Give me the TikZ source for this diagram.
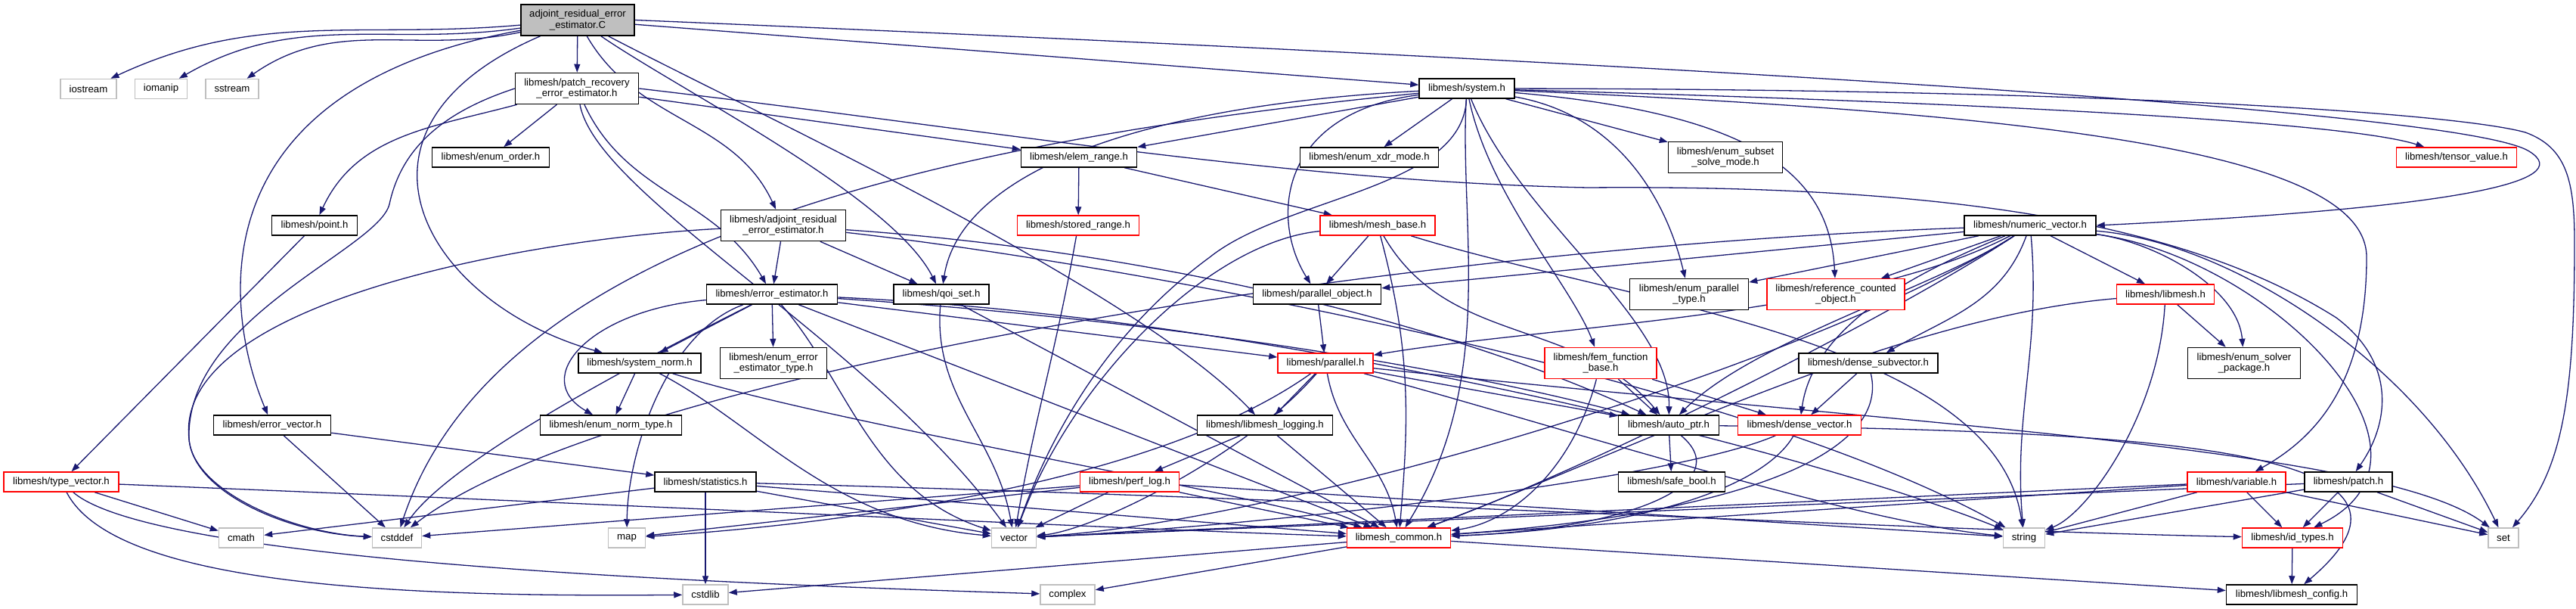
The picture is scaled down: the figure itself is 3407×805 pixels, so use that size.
\documentclass[tikz,border=0pt]{standalone}
\usepackage{fontspec}
\setmainfont{Liberation Sans}
\usepackage{tikz}
\usetikzlibrary{arrows.meta, backgrounds}
\definecolor{edgeblue}{RGB}{25,25,112}
\definecolor{sysgray}{RGB}{191,191,191}
\newcommand{\graphfont}{\fontsize{13.2}{14.2}\selectfont}

\begin{document}
\begin{tikzpicture}[
  x=1pt, y=1pt,
  hdr/.style={rectangle, draw=black, fill=white, line width=1.5pt, minimum height=26pt,
              inner xsep=3pt, inner ysep=1pt, align=center, font=\graphfont},
  hidden/.style={hdr, draw=red},
  sysinc/.style={hdr, draw=sysgray},
  twoline/.style={minimum height=41pt},
  arrow/.style={-{Triangle[length=11pt,width=8pt]}, line width=1.3pt, edgeblue}
]
\useasboundingbox (0,0) rectangle (3407,-805);

% row 0 and 1
\node[hdr, twoline, fill=sysgray, minimum width=150pt] (root) at (764,-26.5) {adjoint\_residual\_error\\\_estimator.C};
\node[sysinc, minimum width=74pt] (iostream) at (117,-117.5) {iostream};
\node[sysinc, minimum width=69pt] (iomanip) at (213,-117.5) {iomanip};
\node[sysinc, minimum width=70pt] (sstream) at (307,-117.5) {sstream};
\node[hdr, twoline, minimum width=163pt] (patchrec) at (763,-117) {libmesh/patch\_recovery\\\_error\_estimator.h};
\node[hdr, minimum width=126pt] (system) at (1940,-117) {libmesh/system.h};

% row 2
\node[hdr, minimum width=155pt] (enumorder) at (649,-208) {libmesh/enum\_order.h};
\node[hdr, minimum width=153pt] (elemrange) at (1427,-208) {libmesh/elem\_range.h};
\node[hdr, minimum width=183pt] (enumxdr) at (1811,-208) {libmesh/enum\_xdr\_mode.h};
\node[hdr, twoline, minimum width=151pt] (enumsubset) at (2282,-208) {libmesh/enum\_subset\\\_solve\_mode.h};
\node[hidden, minimum width=159pt] (tensor) at (3249,-208) {libmesh/tensor\_value.h};

% row 3
\node[hdr, minimum width=113pt] (point) at (416,-298) {libmesh/point.h};
\node[hdr, twoline, minimum width=165pt] (adjres) at (1036,-298) {libmesh/adjoint\_residual\\\_error\_estimator.h};
\node[hidden, minimum width=161pt] (storedrange) at (1426,-298) {libmesh/stored\_range.h};
\node[hidden, minimum width=152pt] (meshbase) at (1822,-298) {libmesh/mesh\_base.h};
\node[hdr, minimum width=174pt] (numvec) at (2685,-298) {libmesh/numeric\_vector.h};

% row 4
\node[hdr, minimum width=173pt] (errest) at (1021,-389) {libmesh/error\_estimator.h};
\node[hdr, minimum width=126pt] (qoiset) at (1245,-389) {libmesh/qoi\_set.h};
\node[hdr, minimum width=169pt] (parobj) at (1742,-389) {libmesh/parallel\_object.h};
\node[hdr, twoline, minimum width=157pt] (enumpartype) at (2234,-389) {libmesh/enum\_parallel\\\_type.h};
\node[hidden, twoline, minimum width=182pt] (refcount) at (2428,-389) {libmesh/reference\_counted\\\_object.h};
\node[hidden, minimum width=129pt] (libmeshh) at (2864,-389) {libmesh/libmesh.h};

% row 5
\node[hdr, minimum width=162pt] (sysnorm) at (846,-480) {libmesh/system\_norm.h};
\node[hdr, twoline, minimum width=141pt] (enumerrtype) at (1023,-480) {libmesh/enum\_error\\\_estimator\_type.h};
\node[hidden, minimum width=126pt] (parallel) at (1753,-480) {libmesh/parallel.h};
\node[hidden, twoline, minimum width=148pt] (femfunc) at (2117,-480) {libmesh/fem\_function\\\_base.h};
\node[hdr, minimum width=184pt] (densesub) at (2471,-480) {libmesh/dense\_subvector.h};
\node[hdr, twoline, minimum width=149pt] (enumsolver) at (2968,-480) {libmesh/enum\_solver\\\_package.h};

% row 6
\node[hdr, minimum width=155pt] (errvec) at (360,-562) {libmesh/error\_vector.h};
\node[hdr, minimum width=187pt] (enumnorm) at (808,-562) {libmesh/enum\_norm\_type.h};
\node[hdr, minimum width=179pt] (logging) at (1673,-562) {libmesh/libmesh\_logging.h};
\node[hdr, minimum width=133pt] (autoptr) at (2207,-562) {libmesh/auto\_ptr.h};
\node[hidden, minimum width=163pt] (densevec) at (2380,-562) {libmesh/dense\_vector.h};

% row 7
\node[hidden, minimum width=152pt] (typevec) at (81,-637) {libmesh/type\_vector.h};
\node[hdr, minimum width=134pt] (stats) at (933,-637) {libmesh/statistics.h};
\node[hidden, minimum width=131pt] (perflog) at (1494,-637) {libmesh/perf\_log.h};
\node[hdr, minimum width=141pt] (safebool) at (2211,-637) {libmesh/safe\_bool.h};
\node[hidden, minimum width=130pt] (variable) at (2958,-637) {libmesh/variable.h};
\node[hdr, minimum width=116pt] (patch) at (3106,-637) {libmesh/patch.h};

% row 8
\node[sysinc, minimum width=59pt] (cmath) at (319,-711) {cmath};
\node[sysinc, minimum width=65pt] (cstddef) at (525,-711) {cstddef};
\node[sysinc, minimum width=49pt] (map) at (829,-711) {map};
\node[sysinc, minimum width=59pt] (vector) at (1341,-711) {vector};
\node[hidden, minimum width=137pt] (common) at (1850,-711) {libmesh\_common.h};
\node[sysinc, minimum width=55pt] (string) at (2677,-711) {string};
\node[hidden, minimum width=133pt] (idtypes) at (3032,-711) {libmesh/id\_types.h};
\node[sysinc, minimum width=40pt] (set) at (3311,-711) {set};

% row 9
\node[sysinc, minimum width=60pt] (cstdlib) at (933,-786) {cstdlib};
\node[sysinc, minimum width=72pt] (complex) at (1412,-786) {complex};
\node[hdr, minimum width=173pt] (config) at (3031,-786) {libmesh/libmesh\_config.h};

\begin{scope}[on background layer]
% root
\draw[arrow] (root) to[out=185,in=25] (iostream);
\draw[arrow] (root) to[out=188,in=30] (iomanip);
\draw[arrow] (root) to[out=192,in=35] (sstream);
\draw[arrow] (root) -- (patchrec);
\draw[arrow] (root) -- (system);
\draw[arrow] (root) to[out=-60,in=115] (adjres);
\draw[arrow] (root) .. controls (900,-120) and (1180,-260) .. (qoiset);
\draw[arrow] (root) .. controls (1000,-150) and (1500,-380) .. (logging);
\draw[arrow] (root) .. controls (250,-120) and (300,-420) .. (errvec);
\draw[arrow] (root) .. controls (430,-170) and (560,-400) .. (sysnorm);
\draw[arrow] (root.east) .. controls (2000,-75) and (3250,-140) .. (3345,-200) .. controls (3410,-240) and (3250,-275) .. (numvec.east);

% patch recovery
\draw[arrow] (patchrec) -- (enumorder);
\draw[arrow] (patchrec) to[out=195,in=65] (point);
\draw[arrow] (patchrec) -- (elemrange);
\draw[arrow] (patchrec) to[out=-65,in=120] (errest);
\draw[arrow] (patchrec.east) .. controls (1300,-170) and (1700,-240) .. (2100,-248) .. controls (2600,-244) and (2900,-300) .. (3090,-420) .. controls (3170,-480) and (3160,-560) .. (patch);
\draw[arrow] (patchrec.west) .. controls (580,-150) and (530,-200) .. (515,-270) .. controls (500,-330) and (245,-420) .. (250,-580) .. controls (255,-650) and (380,-705) .. (cstddef);
\draw[arrow] (patchrec) .. controls (790,-260) and (1150,-450) .. (vector);

% system
\draw[arrow] (system) -- (elemrange);
\draw[arrow] (system) -- (enumxdr);
\draw[arrow] (system) -- (enumsubset);
\draw[arrow] (system) .. controls (2600,-135) and (3100,-160) .. (tensor);
\draw[arrow] (system) .. controls (2700,-150) and (3130,-200) .. (3130,-340) .. controls (3130,-510) and (3060,-580) .. (variable);
\draw[arrow] (system) .. controls (2800,-118) and (3250,-150) .. (3340,-175) .. controls (3395,-195) and (3405,-240) .. (3405,-320) .. controls (3405,-520) and (3390,-620) .. (set);
\draw[arrow] (system) .. controls (1500,-140) and (1270,-230) .. (qoiset);
\draw[arrow] (system) .. controls (1690,-150) and (1680,-290) .. (parobj);
\draw[arrow] (system) .. controls (2130,-150) and (2200,-250) .. (enumpartype);
\draw[arrow] (system) .. controls (2320,-150) and (2420,-230) .. (refcount);
\draw[arrow] (system) .. controls (1970,-260) and (2080,-380) .. (femfunc);
\draw[arrow] (system) .. controls (2010,-290) and (2210,-420) .. (autoptr);
\draw[arrow] (system) .. controls (1930,-300) and (1980,-500) .. (common);
\draw[arrow] (system) .. controls (1935,-250) and (1700,-260) .. (1600,-340) .. controls (1450,-450) and (1380,-600) .. (vector);
\draw[arrow] (system) .. controls (1200,-190) and (650,-330) .. (cstddef);

% adjoint residual header
\draw[arrow] (adjres) -- (errest);
\draw[arrow] (adjres) -- (qoiset);
\draw[arrow] (adjres) .. controls (700,-315) and (230,-400) .. (250,-580) .. controls (255,-650) and (390,-705) .. (cstddef);
\draw[arrow] (adjres) .. controls (1500,-330) and (1900,-420) .. (autoptr);
\draw[arrow] (adjres) .. controls (1500,-350) and (2300,-500) .. (string);

% ranges and mesh
\draw[arrow] (elemrange) -- (storedrange);
\draw[arrow] (elemrange) -- (meshbase);
\draw[arrow] (storedrange) to[out=-100,in=80] (vector);
\draw[arrow] (point) -- (typevec);
\draw[arrow] (meshbase) -- (parobj);
\draw[arrow] (meshbase) to[out=-60,in=130] (autoptr);
\draw[arrow] (meshbase) to[out=-75,in=85] (common);
\draw[arrow] (meshbase) .. controls (2150,-400) and (2640,-450) .. (string);
\draw[arrow] (meshbase) .. controls (1600,-320) and (1420,-500) .. (vector);

% numeric vector
\draw[arrow] (numvec) -- (parobj);
\draw[arrow] (numvec) -- (enumpartype);
\draw[arrow] (numvec) -- (refcount);
\draw[arrow] (numvec) -- (libmeshh);
\draw[arrow] (numvec) to[out=-110,in=30] (densesub);
\draw[arrow] (numvec) .. controls (2560,-350) and (2400,-420) .. (densevec);
\draw[arrow] (numvec) .. controls (2450,-420) and (2050,-430) .. (parallel);
\draw[arrow] (numvec) .. controls (2560,-380) and (2320,-450) .. (autoptr);
\draw[arrow] (numvec) .. controls (2850,-320) and (2960,-380) .. (enumsolver);
\draw[arrow] (numvec) .. controls (3000,-340) and (3260,-600) .. (idtypes);
\draw[arrow] (numvec) .. controls (2950,-320) and (3200,-480) .. (set);
\draw[arrow] (numvec) .. controls (2500,-420) and (2100,-620) .. (common);
\draw[arrow] (numvec) to[out=-85,in=95] (string);
\draw[arrow] (numvec) .. controls (2400,-480) and (1700,-690) .. (vector);
\draw[arrow] (numvec) .. controls (1800,-330) and (800,-500) .. (cstddef);

% error estimator
\draw[arrow] (errest) -- (sysnorm);
\draw[arrow] (errest) -- (enumerrtype);
\draw[arrow] (errest) -- (parallel);
\draw[arrow] (errest) .. controls (1500,-420) and (1900,-480) .. (autoptr);
\draw[arrow] (errest) -- (common);
\draw[arrow] (errest) .. controls (1120,-500) and (1150,-650) .. (vector);
\draw[arrow] (errest) .. controls (900,-450) and (600,-600) .. (cstddef);
\draw[arrow] (errest) .. controls (880,-440) and (830,-600) .. (map);
\draw[arrow] (errest) .. controls (780,-410) and (700,-500) .. (enumnorm);
\draw[arrow] (errest) .. controls (1700,-420) and (2400,-600) .. (string);

% qoi set, parallel object, norm
\draw[arrow] (qoiset) to[out=-95,in=100] (vector);
\draw[arrow] (qoiset) -- (common);
\draw[arrow] (parobj) -- (parallel);
\draw[arrow] (sysnorm) -- (enumnorm);
\draw[arrow] (sysnorm) .. controls (1000,-560) and (1100,-690) .. (vector);
\draw[arrow] (sysnorm) .. controls (1100,-560) and (1600,-640) .. (common);

% parallel
\draw[arrow] (parallel) -- (logging);
\draw[arrow] (parallel) -- (autoptr);
\draw[arrow] (parallel) to[out=-80,in=100] (common);
\draw[arrow] (parallel) .. controls (2500,-560) and (3150,-590) .. (set);
\draw[arrow] (parallel) .. controls (2050,-560) and (2450,-690) .. (string);
\draw[arrow] (parallel) .. controls (1650,-600) and (1450,-700) .. (vector);
\draw[arrow] (parallel) .. controls (1500,-660) and (1000,-700) .. (map);

% fem function, dense vectors, libmesh.h
\draw[arrow] (femfunc) -- (autoptr);
\draw[arrow] (femfunc) -- (densevec);
\draw[arrow] (femfunc) .. controls (2080,-620) and (2000,-690) .. (common);
\draw[arrow] (densesub) -- (densevec);
\draw[arrow] (densesub) .. controls (2500,-600) and (2300,-680) .. (common);
\draw[arrow] (libmeshh) -- (enumsolver);
\draw[arrow] (libmeshh) .. controls (2500,-420) and (2150,-600) .. (common);
\draw[arrow] (libmeshh) .. controls (2855,-550) and (2760,-680) .. (string);

% error vector, logging, auto_ptr
\draw[arrow] (errvec) -- (stats);
\draw[arrow] (errvec) -- (cstddef);
\draw[arrow] (logging) -- (perflog);
\draw[arrow] (logging) -- (common);
\draw[arrow] (autoptr) -- (safebool);
\draw[arrow] (autoptr) .. controls (2300,-640) and (2150,-700) .. (common);
\draw[arrow] (autoptr) .. controls (2900,-570) and (3250,-600) .. (config);
\draw[arrow] (densevec) .. controls (2330,-650) and (2150,-700) .. (common);
\draw[arrow] (densevec) .. controls (2200,-640) and (1600,-700) .. (vector);

% type vector, statistics, perf log
\draw[arrow] (typevec) -- (cmath);
\draw[arrow] (typevec) .. controls (200,-740) and (900,-770) .. (complex);
\draw[arrow] (typevec) .. controls (150,-770) and (500,-790) .. (cstdlib);
\draw[arrow] (typevec) .. controls (900,-670) and (1500,-700) .. (common);
\draw[arrow] (stats) -- (cmath);
\draw[arrow] (stats) -- (cstdlib);
\draw[arrow] (stats) -- (vector);
\draw[arrow] (stats) -- (common);
\draw[arrow] (stats) .. controls (1800,-660) and (2500,-700) .. (idtypes);
\draw[arrow] (perflog) -- (vector);
\draw[arrow] (perflog) -- (map);
\draw[arrow] (perflog) -- (cstddef);
\draw[arrow] (perflog) -- (string);
\draw[arrow] (perflog) -- (common);

% variable, patch
\draw[arrow] (variable) -- (idtypes);
\draw[arrow] (variable) -- (set);
\draw[arrow] (variable) -- (string);
\draw[arrow] (variable) -- (common);
\draw[arrow] (variable) -- (vector);
\draw[arrow] (patch) -- (idtypes);
\draw[arrow] (patch) -- (set);
\draw[arrow] (patch) -- (string);
\draw[arrow] (patch) -- (vector);

% common headers
\draw[arrow] (common) -- (config);
\draw[arrow] (common) -- (cstdlib);
\draw[arrow] (common) -- (complex);
\draw[arrow] (idtypes) -- (config);
\end{scope}
\end{tikzpicture}
\end{document}
